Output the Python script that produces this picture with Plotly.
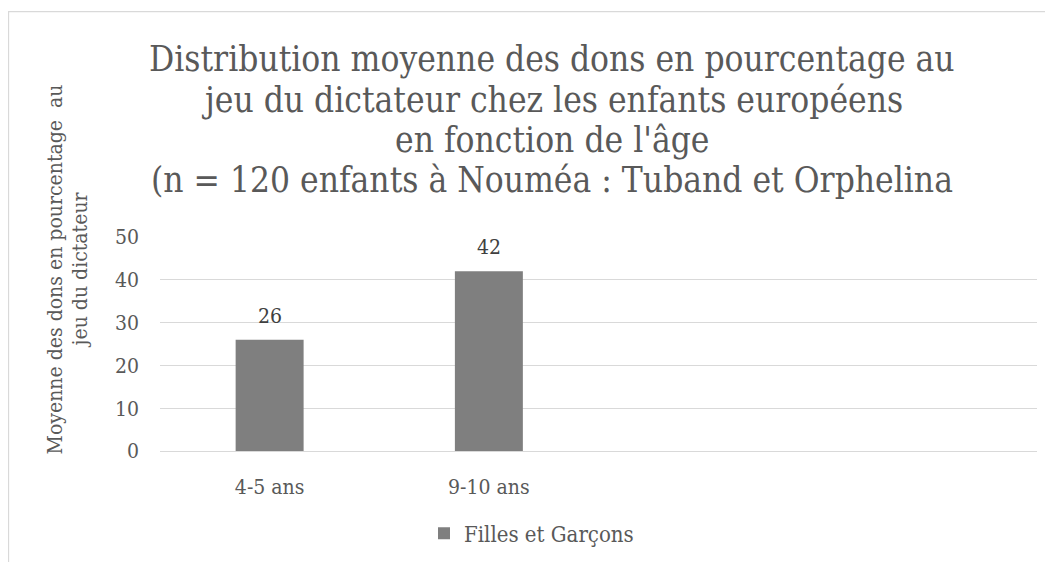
import plotly.graph_objects as go

categories = ["4-5 ans", "9-10 ans"]
values = [26, 42]
series_name = "Filles et Garçons"
title_lines = [
    "Distribution moyenne des dons en pourcentage au",
    "jeu du dictateur chez les enfants européens",
    "en fonction de l'âge",
    "(n = 120 enfants à Nouméa : Tuband et Orphelina",
]
y_title_lines = ["Moyenne des dons en pourcentage&nbsp; au", "jeu du dictateur"]
y_ticks = [0, 10, 20, 30, 40, 50]

FONT = "DejaVu Serif Condensed, DejaVu Serif, serif"
OFF = 8  # page body margin
W, H = 1053 - 2 * OFF, 570 - 2 * OFF
# plot area in page pixels
PL, PR, PT, PB = 160, 1037, 237, 455
L, R, T, B = PL - OFF, PR - OFF, PT - OFF, PB - OFF


def px_x(p):
    return (p - PL) / (PR - PL)


def px_y(p):
    return (PB - p) / (PB - PT)


fig = go.Figure()
fig.add_trace(go.Bar(
    x=categories, y=values, name=series_name,
    marker=dict(color="#7f7f7f", line=dict(width=0)),
    showlegend=True,
))

for c, v in zip(categories, values):
    fig.add_annotation(x=c, y=v, xref="x", yref="y", text=str(v),
                       showarrow=False, yanchor="bottom", yshift=10,
                       font=dict(family=FONT, size=21, color="#404040"))

# chart title, one annotation per line for Excel-like line spacing
title_centers = [56, 97, 138, 179]
for line, cy in zip(title_lines, title_centers):
    fig.add_annotation(xref="paper", yref="paper", x=px_x(552), y=px_y(cy),
                       text=line, showarrow=False, xanchor="center",
                       yanchor="middle",
                       font=dict(family=FONT, size=35, color="#595959"))

# rotated y-axis title (two lines)
y_title_x = [55, 80]
for line, cx in zip(y_title_lines, y_title_x):
    fig.add_annotation(xref="paper", yref="paper", x=px_x(cx), y=px_y(270),
                       text=line, textangle=-90, showarrow=False,
                       xanchor="center", yanchor="middle",
                       font=dict(family=FONT, size=21, color="#595959"))

fig.add_shape(type="rect", xref="paper", yref="paper",
              x0=px_x(8.5), y0=px_y(600), x1=px_x(1100), y1=px_y(7.5),
              line=dict(color="#d9d9d9", width=1.3), layer="below")

fig.update_layout(
    width=W, height=H,
    margin=dict(l=L, r=W - R, t=T, b=H - B, pad=0),
    paper_bgcolor="white", plot_bgcolor="white",
    bargap=0.69,
    xaxis=dict(range=[-0.5, 3.5], type="category", showgrid=False,
               showline=False, zeroline=False, ticks="",
               ticklabelstandoff=21,
               tickfont=dict(family=FONT, size=21, color="#595959")),
    yaxis=dict(range=[0, 50], tickvals=y_ticks, showgrid=True,
               gridcolor="#d9d9d9", gridwidth=1.3, zeroline=True,
               zerolinecolor="#d9d9d9", zerolinewidth=1.3, showline=False,
               ticks="", ticklabelstandoff=20,
               tickfont=dict(family=FONT, size=21, color="#595959")),
    legend=dict(orientation="h", x=px_x(424), xanchor="left",
                y=px_y(539), yanchor="middle", itemwidth=30,
                font=dict(family=FONT, size=22, color="#595959")),
    showlegend=True,
)

fig.write_html("out.html")
